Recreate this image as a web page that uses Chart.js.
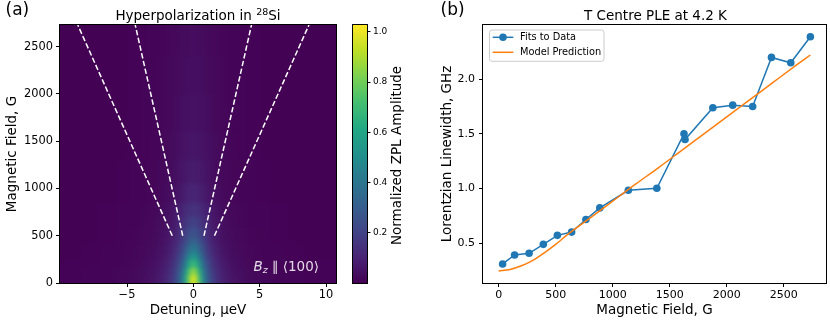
<!DOCTYPE html>
<html><head><meta charset="utf-8">
<script src="https://cdn.jsdelivr.net/npm/chart.js@4.4.1/dist/chart.umd.min.js"></script>
<style>
html,body{margin:0;padding:0;background:#fff;}
#wrap{position:relative;width:830px;height:325px;overflow:hidden;background:#fff;}
canvas{position:absolute;top:0;}
</style></head><body>
<div id="wrap">
<canvas id="cA" width="345" height="325" style="left:0px"></canvas>
<canvas id="cC" width="75" height="325" style="left:340px"></canvas>
<canvas id="cB" width="410" height="325" style="left:420px"></canvas>
</div>
<script>
// ---------- Panel (a): heatmap data (symmetric in detuning) ----------
const detuningEdges = [0, 0.3, 0.6, 0.9, 1.3, 1.8, 2.5, 3.5, 5, 7.5, 11];          // µeV, |detuning| cell edges
const fieldEdges = [0, 80, 160, 240, 320, 400, 480, 580, 700, 850, 1050, 1300, 1600, 2000, 2400, 2800]; // G
const zplAmplitude = [
  [0.956,0.708,0.466,0.288,0.169,0.096,0.052,0.026,0.012,0.006],
  [0.843,0.633,0.422,0.264,0.156,0.089,0.048,0.025,0.012,0.005],
  [0.674,0.518,0.355,0.226,0.136,0.078,0.042,0.022,0.010,0.005],
  [0.522,0.410,0.287,0.187,0.114,0.066,0.036,0.019,0.009,0.004],
  [0.408,0.330,0.239,0.159,0.099,0.058,0.032,0.017,0.008,0.004],
  [0.321,0.266,0.198,0.136,0.086,0.051,0.028,0.015,0.007,0.003],
  [0.254,0.216,0.166,0.118,0.076,0.046,0.026,0.014,0.007,0.003],
  [0.196,0.170,0.135,0.098,0.065,0.040,0.023,0.012,0.006,0.003],
  [0.149,0.133,0.108,0.082,0.056,0.035,0.020,0.011,0.006,0.003],
  [0.102,0.093,0.078,0.060,0.042,0.027,0.016,0.009,0.004,0.002],
  [0.078,0.071,0.062,0.049,0.035,0.023,0.014,0.008,0.004,0.002],
  [0.060,0.056,0.050,0.041,0.031,0.021,0.013,0.007,0.004,0.002],
  [0.048,0.044,0.040,0.033,0.026,0.018,0.012,0.007,0.003,0.002],
  [0.039,0.037,0.034,0.029,0.023,0.017,0.011,0.007,0.003,0.002],
  [0.033,0.031,0.029,0.025,0.021,0.016,0.010,0.007,0.003,0.002]
];
const splitField = [500, 2730];      // G
const outerSplit = [1.59, 8.71];     // µeV
const innerSplit = [0.80, 4.38];     // µeV
const detuningTicks = [-5, 0, 5, 10];
const fieldTicksA = [0, 500, 1000, 1500, 2000, 2500];
const colorbarTicks = [0.2, 0.4, 0.6, 0.8, 1.0];
const colorRange = [0, 1.027];
const viridisStops = ['#440154','#482475','#414487','#355f8d','#2a788e','#21918c','#22a884','#44bf70','#7ad151','#bddf26','#fde725'];

// ---------- Panel (b): linewidth data ----------
const fieldG = [35, 140, 267, 392, 515, 640, 765, 887, 1137, 1387, 1625, 1634, 1878, 2052, 2227, 2392, 2561, 2733];
const linewidthGHz = [0.312, 0.394, 0.409, 0.491, 0.573, 0.603, 0.718, 0.824, 0.985, 1.003, 1.50, 1.448, 1.738, 1.762, 1.750, 2.198, 2.149, 2.387];
const modelField = [0, 100, 200, 300, 400, 500, 600, 800, 1000, 1200, 1400, 1600, 1800, 2000, 2200, 2400, 2600, 2733];
const modelGHz = [0.247, 0.262, 0.295, 0.345, 0.413, 0.49, 0.577, 0.73, 0.885, 1.04, 1.19, 1.345, 1.50, 1.655, 1.81, 1.965, 2.12, 2.22];
const fieldTicksB = [0, 500, 1000, 1500, 2000, 2500];
const linewidthTicks = [0.5, 1.0, 1.5, 2.0];

// ---------- helpers ----------
Chart.defaults.font.family = "'DejaVu Sans', sans-serif";
Chart.defaults.color = '#000';
const FONT = "'DejaVu Sans', sans-serif";
const viridisRgb = viridisStops.map(h => [1,3,5].map(i => parseInt(h.slice(i, i+2), 16)));
function viridisColor(t) {
  t = Math.max(0, Math.min(1, t));
  const n = viridisRgb.length - 1;
  const p = t * n;
  const i = Math.min(Math.floor(p), n - 1);
  const f = p - i;
  const a = viridisRgb[i], b = viridisRgb[i+1];
  return 'rgb(' + [0,1,2].map(k => Math.round(a[k] + (b[k]-a[k])*f)).join(',') + ')';
}
const minusFmt = v => (v < 0 ? '\u2212' + Math.abs(v) : String(v));
const setTicks = arr => s => { s.ticks = arr.map(v => ({value: v})); };
const axisGrid = {drawOnChartArea: false, tickLength: 4, tickColor: '#000', tickWidth: 1};

const framePlugin = {
  id: 'frame',
  afterDraw(chart) {
    const {ctx, chartArea: a} = chart;
    ctx.save();
    ctx.strokeStyle = '#000'; ctx.lineWidth = 1;
    ctx.strokeRect(Math.round(a.left) - 0.5, Math.round(a.top) - 0.5, Math.round(a.right - a.left) + 1, Math.round(a.bottom - a.top) + 1);
    ctx.restore();
  }
};

// heatmap rows drawn through the chart's scales (colour shading between cell centres)
const heatmapPlugin = {
  id: 'heatmap',
  beforeDatasetsDraw(chart) {
    const {ctx, chartArea: a, scales: {x, y}} = chart;
    const off = document.createElement('canvas');
    off.width = chart.width; off.height = chart.height;
    const o = off.getContext('2d');
    const nR = zplAmplitude.length, nC = detuningEdges.length - 1;
    const xL = x.getPixelForValue(-detuningEdges[nC]) - 20, xR = x.getPixelForValue(detuningEdges[nC]) + 20;
    for (let r = 0; r < nR; r++) {
      let yTop = Math.round(y.getPixelForValue(fieldEdges[r+1]));
      let yBot = Math.round(y.getPixelForValue(fieldEdges[r]));
      if (r === 0) yBot += 15;
      if (r === nR - 1) yTop -= 15;
      const g = o.createLinearGradient(xL, 0, xR, 0);
      const stops = [];
      for (let c = 0; c < nC; c++) {
        const mid = (detuningEdges[c] + detuningEdges[c+1]) / 2;
        const col = viridisColor((zplAmplitude[r][c] - colorRange[0]) / (colorRange[1] - colorRange[0]));
        stops.push([x.getPixelForValue(mid), col]);
        stops.push([x.getPixelForValue(-mid), col]);
      }
      const outer = viridisColor(zplAmplitude[r][nC-1] / colorRange[1]);
      stops.push([xL, outer]); stops.push([xR, outer]);
      stops.sort((p, q) => p[0] - q[0]);
      stops.forEach(([px, col]) => g.addColorStop(Math.max(0, Math.min(1, (px - xL) / (xR - xL))), col));
      o.fillStyle = g;
      o.fillRect(xL, yTop, xR - xL, yBot - yTop);
    }
    ctx.save();
    ctx.beginPath(); ctx.rect(a.left, a.top, a.right - a.left, a.bottom - a.top); ctx.clip();
    ctx.filter = 'blur(2px)';
    ctx.drawImage(off, 0, 0);
    ctx.filter = 'none';
    ctx.restore();
  },
  afterDatasetsDraw(chart) {
    const {ctx, scales: {x, y}} = chart;
    let px = x.getPixelForValue(4.53), py = y.getPixelForValue(127);
    ctx.save();
    ctx.fillStyle = 'rgba(255,255,255,0.85)';
    ctx.textBaseline = 'alphabetic'; ctx.textAlign = 'left';
    ctx.font = 'italic 13.5px ' + FONT;
    ctx.fillText('B', px, py); px += ctx.measureText('B').width;
    ctx.font = 'italic 9.5px ' + FONT;
    ctx.fillText('z', px, py + 2.5); px += ctx.measureText('z').width + 4;
    ctx.font = '13.5px ' + FONT;
    ctx.fillText('\u2225 \u27E8100\u27E9', px, py);
    ctx.restore();
  },
  afterDraw(chart) {
    const {ctx, chartArea: a} = chart;
    ctx.save();
    ctx.fillStyle = '#000';
    ctx.textBaseline = 'alphabetic'; ctx.textAlign = 'left';
    const main = 'Hyperpolarization in ', sup = '28', tail = 'Si';
    ctx.font = '13.5px ' + FONT; const w1 = ctx.measureText(main).width, w3 = ctx.measureText(tail).width;
    ctx.font = '9.5px ' + FONT; const w2 = ctx.measureText(sup).width;
    let tx = (a.left + a.right) / 2 - (w1 + w2 + w3) / 2; const base = 19.8;
    ctx.font = '13.5px ' + FONT; ctx.fillText(main, tx, base); tx += w1;
    ctx.font = '9.5px ' + FONT; ctx.fillText(sup, tx, base - 5.2); tx += w2;
    ctx.font = '13.5px ' + FONT; ctx.fillText(tail, tx, base);
    ctx.font = '17px ' + FONT; ctx.fillText('(a)', 5.5, 15);
    ctx.restore();
  }
};

const dash = {showLine: true, borderColor: '#ffffff', borderWidth: 1.5, borderDash: [5.5, 2.4], pointRadius: 0, fill: false};
new Chart(document.getElementById('cA'), {
  type: 'scatter',
  data: {datasets: [
    Object.assign({label: 'split outer low', data: splitField.map((b, i) => ({x: -outerSplit[i], y: b}))}, dash),
    Object.assign({label: 'split inner low', data: splitField.map((b, i) => ({x: -innerSplit[i], y: b}))}, dash),
    Object.assign({label: 'split inner high', data: splitField.map((b, i) => ({x: innerSplit[i], y: b}))}, dash),
    Object.assign({label: 'split outer high', data: splitField.map((b, i) => ({x: outerSplit[i], y: b}))}, dash)
  ]},
  options: {
    responsive: false, animation: false, devicePixelRatio: 1,
    layout: {padding: {top: 25, right: 9, left: 0, bottom: 0}},
    plugins: {legend: {display: false}, tooltip: {enabled: false}},
    scales: {
      x: {type: 'linear', min: -10.05, max: 10.75,
          afterFit: s => { s.height = 42; }, afterBuildTicks: setTicks(detuningTicks),
          ticks: {callback: minusFmt, font: {size: 11.4}, padding: 1, maxRotation: 0, autoSkip: false},
          grid: axisGrid, border: {display: false},
          title: {display: true, text: 'Detuning, \u00B5eV', font: {size: 13.5}, padding: {top: 0, bottom: 6.6}}},
      y: {type: 'linear', min: 0, max: 2730,
          afterFit: s => { s.width = 60; }, afterBuildTicks: setTicks(fieldTicksA),
          ticks: {callback: v => String(v), font: {size: 11.4}, padding: 3, autoSkip: false},
          grid: axisGrid, border: {display: false},
          title: {display: true, text: 'Magnetic Field, G', font: {size: 13.5}, padding: {top: 4.4, bottom: 0}}}
    }
  },
  plugins: [heatmapPlugin, framePlugin]
});

// ---------- colorbar ----------
const colorbarPlugin = {
  id: 'colorbar',
  beforeDatasetsDraw(chart) {
    const {ctx, chartArea: a, scales: {y}} = chart;
    const y0 = y.getPixelForValue(colorRange[0]), y1 = y.getPixelForValue(colorRange[1]);
    const g = ctx.createLinearGradient(0, y0, 0, y1);
    viridisStops.forEach((c, i) => g.addColorStop(i / (viridisStops.length - 1), c));
    ctx.save(); ctx.fillStyle = g;
    ctx.fillRect(a.left, a.top, a.right - a.left, a.bottom - a.top);
    ctx.restore();
  },
  afterDraw(chart) {
    const {ctx, chartArea: a} = chart;
    ctx.save();
    ctx.translate(57, (a.top + a.bottom) / 2 + 1.5);
    ctx.rotate(-Math.PI / 2);
    ctx.font = '13.5px ' + FONT; ctx.fillStyle = '#000';
    ctx.textAlign = 'center'; ctx.textBaseline = 'middle';
    ctx.fillText('Normalized ZPL Amplitude', 0, 0);
    ctx.restore();
  }
};
new Chart(document.getElementById('cC'), {
  type: 'scatter',
  data: {datasets: []},
  options: {
    responsive: false, animation: false, devicePixelRatio: 1,
    layout: {padding: {top: 25, left: 13, right: 0, bottom: 42}},
    plugins: {legend: {display: false}, tooltip: {enabled: false}},
    scales: {
      x: {display: false, min: 0, max: 1},
      y: {position: 'right', min: colorRange[0], max: colorRange[1],
          afterFit: s => { s.width = 48; }, afterBuildTicks: setTicks(colorbarTicks),
          ticks: {callback: v => v.toFixed(1), font: {size: 9}, padding: 2.5, autoSkip: false},
          grid: {drawOnChartArea: false, tickLength: 3.5, tickColor: '#000'}, border: {display: false}}
    }
  },
  plugins: [colorbarPlugin, framePlugin]
});

// ---------- Panel (b) ----------
const legendPlugin = {
  id: 'boxLegend',
  afterDraw(chart) {
    const {ctx, chartArea: a} = chart;
    ctx.save();
    const bx = a.left + 6.5, by = a.top + 5, bw = 114.5, bh = 31.3;
    ctx.beginPath();
    if (ctx.roundRect) ctx.roundRect(bx, by, bw, bh, 2.5); else ctx.rect(bx, by, bw, bh);
    ctx.fillStyle = 'rgba(255,255,255,0.8)'; ctx.fill();
    ctx.strokeStyle = '#cccccc'; ctx.lineWidth = 1; ctx.stroke();
    chart.data.datasets.forEach((ds, i) => {
      const cy = a.top + 12.3 + i * 15;
      ctx.strokeStyle = ds.borderColor; ctx.lineWidth = ds.borderWidth;
      ctx.beginPath(); ctx.moveTo(a.left + 9.7, cy); ctx.lineTo(a.left + 30.3, cy); ctx.stroke();
      if (ds.pointRadius > 0) {
        ctx.fillStyle = ds.pointBackgroundColor;
        ctx.beginPath(); ctx.arc(a.left + 20, cy, ds.pointRadius, 0, Math.PI * 2); ctx.fill();
      }
      ctx.fillStyle = '#000'; ctx.font = '9.8px ' + FONT;
      ctx.textAlign = 'left'; ctx.textBaseline = 'middle';
      ctx.fillText(ds.label, a.left + 37, cy + 0.5);
    });
    ctx.fillStyle = '#000'; ctx.textBaseline = 'alphabetic';
    ctx.font = '13.5px ' + FONT; ctx.textAlign = 'center';
    ctx.fillText('T Centre PLE at 4.2 K', (a.left + a.right) / 2 + 1, 19.8);
    ctx.font = '17px ' + FONT; ctx.textAlign = 'left';
    ctx.fillText('(b)', 20.5, 15);
    ctx.restore();
  }
};
new Chart(document.getElementById('cB'), {
  type: 'scatter',
  data: {datasets: [
    {label: 'Fits to Data', data: fieldG.map((g, i) => ({x: g, y: linewidthGHz[i]})), showLine: true,
     borderColor: '#1f77b4', backgroundColor: '#1f77b4', pointBackgroundColor: '#1f77b4', pointBorderWidth: 0,
     borderWidth: 1.5, pointRadius: 3.8, order: 2},
    {label: 'Model Prediction', data: modelField.map((g, i) => ({x: g, y: modelGHz[i]})), showLine: true,
     borderColor: '#ff7f0e', backgroundColor: '#ff7f0e', borderWidth: 1.5, pointRadius: 0,
     cubicInterpolationMode: 'monotone', order: 1}
  ]},
  options: {
    responsive: false, animation: false, devicePixelRatio: 1,
    layout: {padding: {top: 25, right: 1, left: 0, bottom: 0}},
    plugins: {legend: {display: false}, tooltip: {enabled: false}},
    scales: {
      x: {type: 'linear', min: -137, max: 2870,
          afterFit: s => { s.height = 42; }, afterBuildTicks: setTicks(fieldTicksB),
          ticks: {callback: v => String(v), font: {size: 11}, padding: 1.2, maxRotation: 0, autoSkip: false},
          grid: axisGrid, border: {display: false},
          title: {display: true, text: 'Magnetic Field, G', font: {size: 13.5}, padding: {top: 0, bottom: 6.6}}},
      y: {type: 'linear', min: 0.138, max: 2.494,
          afterFit: s => { s.width = 63; }, afterBuildTicks: setTicks(linewidthTicks),
          ticks: {callback: v => v.toFixed(1), font: {size: 11}, padding: 4, autoSkip: false},
          grid: axisGrid, border: {display: false},
          title: {display: true, text: 'Lorentzian Linewidth, GHz', font: {size: 13.5}, padding: {top: 19.8, bottom: 0}}}
    }
  },
  plugins: [legendPlugin, framePlugin]
});
</script>
</body></html>
